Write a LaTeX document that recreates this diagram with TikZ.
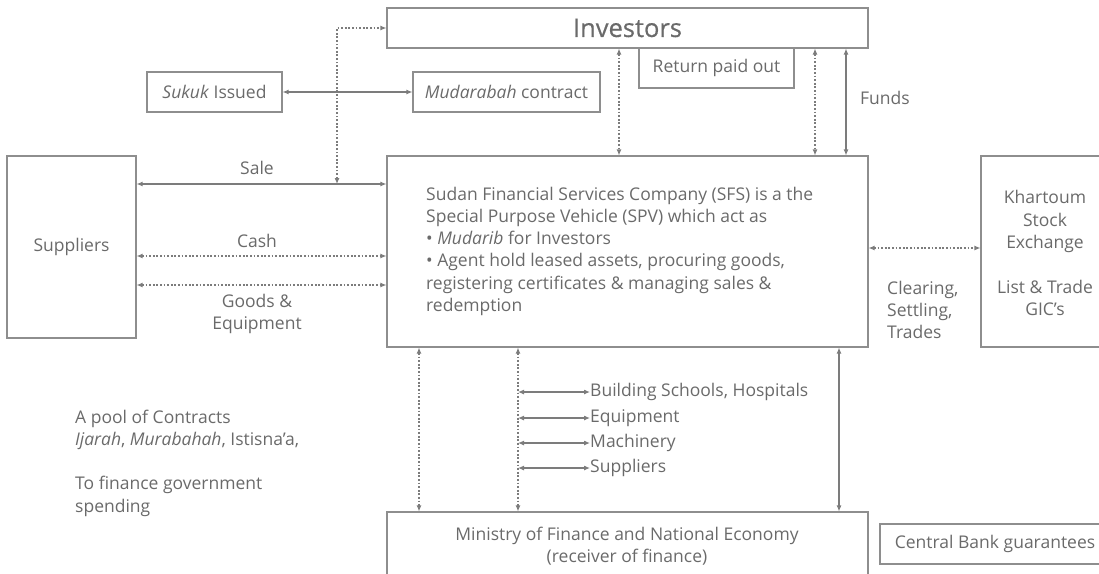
\documentclass[tikz,border=0pt]{standalone}
\usepackage{fontspec}
\setmainfont{Open Sans}
\newfontfamily\invfont[FakeBold=0.5]{Open Sans}
\usetikzlibrary{arrows.meta}
\definecolor{txt}{HTML}{6A6A6A}
\definecolor{ln}{HTML}{7C7C7C}
\definecolor{bx}{HTML}{8E8E8E}
\tikzset{
  box/.style={draw=bx, line width=1.1pt, rectangle, inner sep=0pt, text=txt, font=\fontsize{17.5}{22.3}\selectfont},
  lbl/.style={text=txt, inner sep=0pt, font=\fontsize{17.5}{22.3}\selectfont},
  tip/.style={{Latex[length=6pt,width=5pt]}-{Latex[length=6pt,width=5pt]}},
  solidarr/.style={draw=ln, line width=1.1pt, tip},
  dotarr/.style={draw=ln, line width=1.1pt, dash pattern=on 1.8pt off 1.8pt, tip},
}
\begin{document}
\begin{tikzpicture}[x=1pt,y=-1pt]
\useasboundingbox (0,0) rectangle (1099,573);
% boxes
\node[box, minimum width=481pt, minimum height=40pt, font=\invfont\fontsize{25.5}{27}\selectfont] (inv) at (627.5,28) {Investors};
\node[box, minimum width=155pt, minimum height=40pt] (ret) at (716.5,68) {Return paid out};
\node[box, minimum width=135pt, minimum height=40pt] (suk) at (214.5,92) {\textit{Sukuk} Issued};
\node[box, minimum width=187pt, minimum height=40pt] (mud) at (506.5,92) {\textit{Mudarabah} contract};
\node[box, minimum width=129pt, minimum height=182pt] (sup) at (71.5,247) {Suppliers};
\node[box, minimum width=481pt, minimum height=191pt] (sfs) at (627.5,251.5) {};
\node[box, minimum width=129pt, minimum height=191pt] (kse) at (1045.5,251.5) {};
\node[box, minimum width=481pt, minimum height=78pt] (min) at (627.5,551) {};
\node[box, minimum width=230pt, minimum height=40pt] (cb) at (995,544) {Central Bank guarantees};
% texts
\node[lbl, anchor=north west, align=left] (sfstxt) at (426,186.5) {Sudan Financial Services Company (SFS) is a the\\Special Purpose Vehicle (SPV) which act as\\{\textbullet} \textit{Mudarib} for Investors\\{\textbullet} Agent hold leased assets, procuring goods,\\registering certificates \& managing sales \&\\redemption};
\node[lbl, align=center] (ksetxt) at (1045,253) {Khartoum\\Stock\\Exchange\\[22.3pt]List \& Trade\\GIC’s};
\node[lbl, align=center] (mintxt) at (627,546.5) {Ministry of Finance and National Economy\\(receiver of finance)};
\node[lbl, anchor=west] (funds) at (860,98) {Funds};
\node[lbl] (sale) at (257,168) {Sale};
\node[lbl] (cash) at (257,241) {Cash};
\node[lbl, align=center] (goods) at (257,314) {Goods \&\\Equipment};
\node[lbl, anchor=west, align=left] (clr) at (887,310) {Clearing,\\Settling,\\Trades};
\node[lbl, anchor=west, align=left] (pool) at (75,463) {A pool of Contracts\\\textit{Ijarah}, \textit{Murabahah}, Istisna’a,\\[22.3pt]To finance government\\spending};
\node[lbl, anchor=west] (l1) at (590,392) {Building Schools, Hospitals};
\node[lbl, anchor=west] (l2) at (590,418) {Equipment};
\node[lbl, anchor=west] (l3) at (590,443) {Machinery};
\node[lbl, anchor=west] (l4) at (590,468) {Suppliers};
% x positions
\coordinate (xa) at (619,0);
\coordinate (xb) at (815,0);
\coordinate (xc) at (846,0);
\coordinate (xd) at (419,0);
\coordinate (xe) at (518,0);
\coordinate (xf) at (839,0);
\coordinate (ya) at (0,184);
\coordinate (yb) at (0,256);
\coordinate (yc) at (0,285);
\coordinate (yd) at (0,248);
\coordinate (salept) at (337,184);
% connectors
\draw[solidarr] (suk.east) -- (mud.west);
\draw[dotarr] (salept) |- (inv.west);
\draw[dotarr] (inv.south -| xa) -- (sfs.north -| xa);
\draw[dotarr] (inv.south -| xb) -- (sfs.north -| xb);
\draw[solidarr] (inv.south -| xc) -- (sfs.north -| xc);
\draw[solidarr] (sup.east |- ya) -- (sfs.west |- ya);
\draw[dotarr] (sup.east |- yb) -- (sfs.west |- yb);
\draw[dotarr] (sup.east |- yc) -- (sfs.west |- yc);
\draw[dotarr] (sfs.east |- yd) -- (kse.west |- yd);
\draw[dotarr] (sfs.south -| xd) -- (min.north -| xd);
\draw[dotarr] (sfs.south -| xe) -- (min.north -| xe);
\draw[solidarr] (sfs.south -| xf) -- (min.north -| xf);
\draw[solidarr] (l1.west -| xe) -- (l1.west);
\draw[solidarr] (l2.west -| xe) -- (l2.west);
\draw[solidarr] (l3.west -| xe) -- (l3.west);
\draw[solidarr] (l4.west -| xe) -- (l4.west);
\end{tikzpicture}
\end{document}
